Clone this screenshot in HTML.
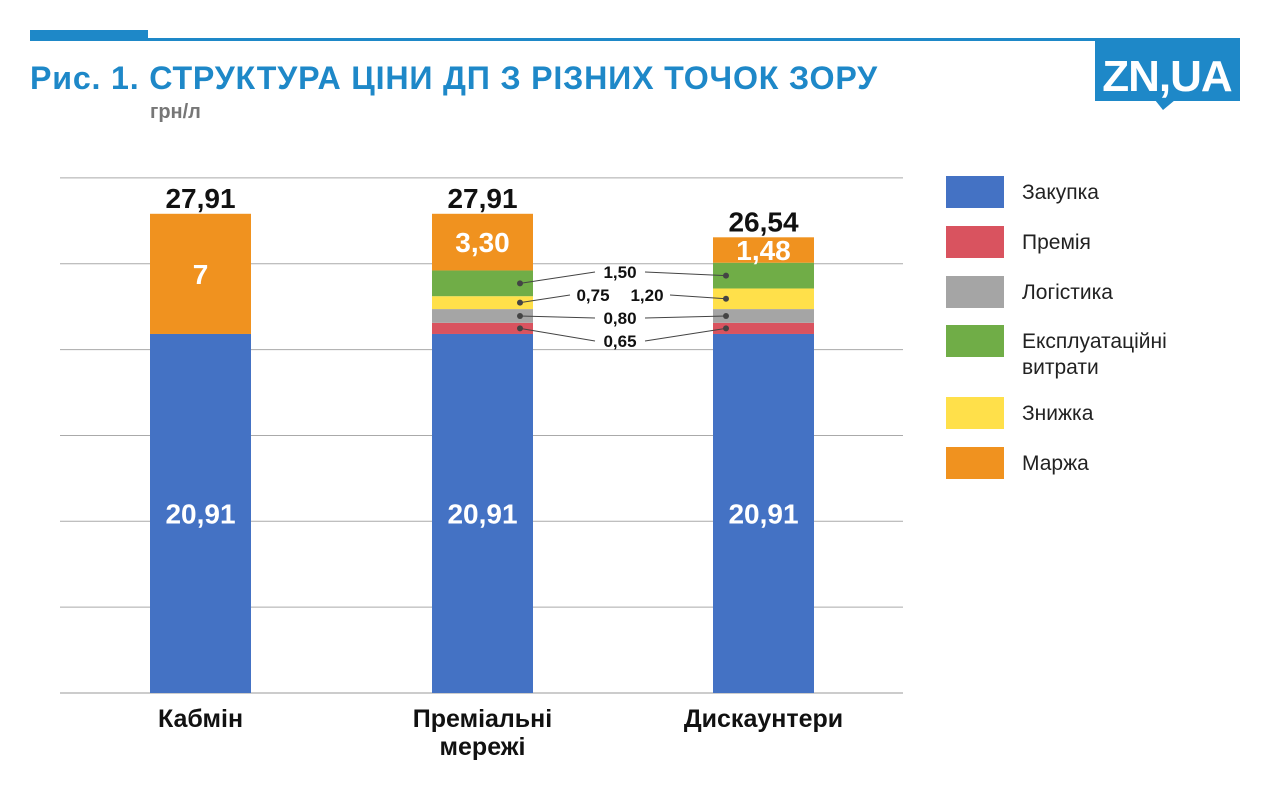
<!DOCTYPE html>
<html><head><meta charset="utf-8"><style>
body{margin:0;width:1280px;height:788px;background:#fff;font-family:"Liberation Sans","DejaVu Sans",sans-serif;overflow:hidden}
</style></head><body>
<svg width="1280" height="788" xmlns="http://www.w3.org/2000/svg" id="chart">
<rect x="30" y="30" width="118" height="8" fill="#1E88C8"/>
<rect x="30" y="38" width="1210" height="3" fill="#1E88C8"/>
<text x="30" y="89" font-size="32" font-weight="bold" fill="#1E88C8" letter-spacing="0.8" textLength="848" lengthAdjust="spacingAndGlyphs">Рис. 1. СТРУКТУРА ЦІНИ ДП З РІЗНИХ ТОЧОК ЗОРУ</text>
<text x="150" y="118" font-size="20" font-weight="bold" fill="#777">грн/л</text>
<g>
<rect x="1095" y="40" width="145" height="61" fill="#1E88C8"/>
<polygon points="1155,100 1175,100 1163,110" fill="#1E88C8"/>
<text x="1167" y="91" font-size="44" font-weight="bold" fill="#fff" text-anchor="middle" letter-spacing="-1">ZN,UA</text>
</g>
<g id="grid"></g><g id="bars"></g><g id="callouts"></g><g id="legend"></g>
</svg>
<script>
const categories=["Кабмін","Преміальні мережі","Дискаунтери"];
const seriesNames=["Закупка","Премія","Логістика","Експлуатаційні витрати","Знижка","Маржа"];
const colors=["#4472C4","#D9535F","#A5A5A5","#70AD47","#FFE04A","#F0921F"];
const purchase=[20.91,20.91,20.91];
const bonus=[0,0.65,0.65];
const logistics=[0,0.80,0.80];
const operating=[0,1.50,1.50];
const discount=[0,0.75,1.20];
const margin=[7,3.30,1.48];
const totalLabels=["27,91","27,91","26,54"];
const yTicks=[0,5,10,15,20,25,30];
const NS="http://www.w3.org/2000/svg";
const y0=693,ppu=17.17;
const Y=v=>y0-v*ppu;
const barX=[150,432,713],bw=101;
const X=i=>barX[i];
function mk(t,a,p){const e=document.createElementNS(NS,t);for(const k in a)e.setAttribute(k,a[k]);(p||document.getElementById('chart')).appendChild(e);return e;}
const grid=document.getElementById('grid');
yTicks.forEach(v=>{const l=mk('line',{x1:60,x2:903,y1:Y(v),y2:Y(v),stroke:v===0?'#999':'#aaa','stroke-width':1},grid);

});
const series=[purchase,bonus,logistics,operating,discount,margin];
const stackOrder=[0,1,2,4,3,5];
const fmt=v=>v.toFixed(2).replace('.',',');
const bars=document.getElementById('bars');
const mids=[];
categories.forEach((c,i)=>{let acc=0;mids[i]=[];
stackOrder.forEach(k=>{const v=series[k][i];if(v<=0){mids[i][k]=null;return;}
const r=mk('rect',{x:X(i),y:Y(acc+v),width:bw,height:v*ppu,fill:colors[k]},bars);


mids[i][k]=Y(acc+v/2);
if(k===0||k===5){const lab=(k===5&&i===0)?String(v):fmt(v);const t=mk('text',{x:X(i)+bw/2,y:Y(acc+v/2)+10,'font-size':28,'font-weight':'bold',fill:'#fff','text-anchor':'middle'},bars);t.textContent=lab;

}
acc+=v;});
const tt=mk('text',{x:X(i)+bw/2,y:Y(acc)-6,'font-size':28,'font-weight':'bold',fill:'#111','text-anchor':'middle'},bars);tt.textContent=totalLabels[i];


const cl=categories[i].split(' ');
cl.forEach((w,j)=>{const t=mk('text',{x:X(i)+bw/2,y:727+j*28,'font-size':25,'font-weight':'bold',fill:'#111','text-anchor':'middle'},bars);t.textContent=w;

});
});
const co=document.getElementById('callouts');
const lx=520,rx=726;
function dot(x,y){const d=mk('circle',{cx:x,cy:y,r:3,fill:'#444'},co);}
function line(x1,y1,x2,y2){const l=mk('line',{x1,y1,x2,y2,stroke:'#444','stroke-width':1},co);}
function lab(x,y,s){const t=mk('text',{x,y:y+6,'font-size':17,'font-weight':'bold',fill:'#111','text-anchor':'middle'},co);t.textContent=s;}
[[3,272],[2,318],[1,341]].forEach(([k,ly])=>{
line(lx,mids[1][k],595,ly);line(rx,mids[2][k],645,ly);dot(lx,mids[1][k]);dot(rx,mids[2][k]);lab(620,ly,fmt(series[k][1]));});
line(lx,mids[1][4],570,295);line(rx,mids[2][4],670,295);dot(lx,mids[1][4]);dot(rx,mids[2][4]);
lab(593,295,fmt(discount[1]));lab(647,295,fmt(discount[2]));
const lg=document.getElementById('legend');
const ly=[192,242,292,341,413,463];
seriesNames.forEach((n,k)=>{const r=mk('rect',{x:946,y:ly[k]-16,width:58,height:32,fill:colors[k]},lg);


const parts=k===3?['Експлуатаційні','витрати']:[n];
parts.forEach((p,j)=>{const t=mk('text',{x:1022,y:ly[k]+7+(k===3?j*26:0),'font-size':21,fill:'#222'},lg);t.textContent=p;

});});
</script>
</body></html>
